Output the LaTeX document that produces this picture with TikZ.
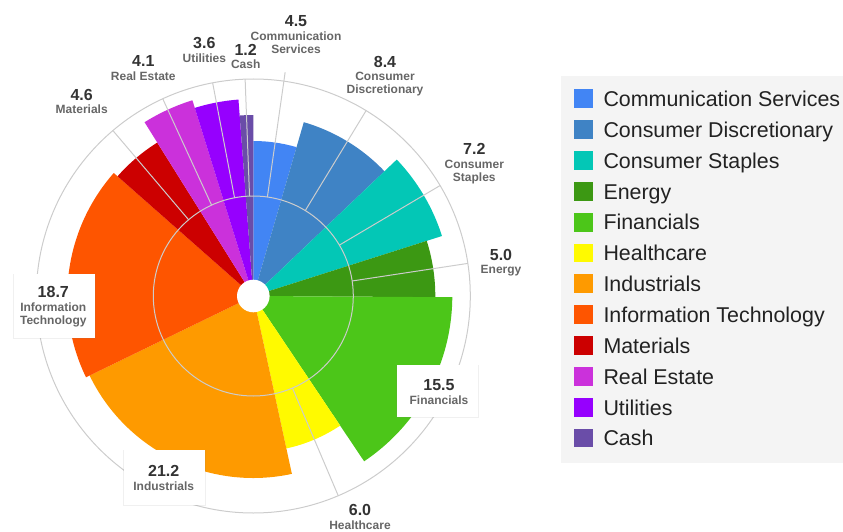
\documentclass[tikz,border=0pt]{standalone}
\usepackage{fontspec}
\setmainfont{Liberation Sans}
\usetikzlibrary{positioning,shadows,calc}
\definecolor{cComm}{HTML}{4285F4}
\definecolor{cDisc}{HTML}{3F83C5}
\definecolor{cStap}{HTML}{03C7B6}
\definecolor{cEner}{HTML}{3C9813}
\definecolor{cFin}{HTML}{4CC619}
\definecolor{cHeal}{HTML}{FFFA00}
\definecolor{cInd}{HTML}{FE9A00}
\definecolor{cIT}{HTML}{FE5500}
\definecolor{cMat}{HTML}{CC0000}
\definecolor{cRE}{HTML}{CB31DB}
\definecolor{cUtil}{HTML}{9600FE}
\definecolor{cCash}{HTML}{6A4DA8}
\definecolor{gridgray}{HTML}{CCCCCC}
\definecolor{valgray}{HTML}{333333}
\definecolor{catgray}{HTML}{666666}
\definecolor{legbg}{HTML}{F4F4F4}
\definecolor{legtxt}{HTML}{222222}
\tikzset{grid/.style={draw=gridgray, line width=1pt}}
\tikzset{val/.style={font=\fontsize{16}{18}\selectfont\bfseries, text=valgray, inner sep=0pt, text height=11.5pt, text depth=0pt}}
\tikzstyle{cat}=[font=\fontsize{12}{13}\selectfont\bfseries, text=catgray, inner sep=0pt, align=center]
\tikzstyle{lbox}=[fill=white, minimum width=81pt, inner sep=0pt, drop shadow={shadow xshift=0pt, shadow yshift=-0.6pt, shadow scale=1.025, opacity=0.12}]
\tikzstyle{swatch}=[minimum size=18.7pt, inner sep=0pt]
\tikzstyle{legtext}=[font=\fontsize{21.4}{24}\selectfont, text=legtxt, inner sep=0pt, anchor=base west]

\begin{document}
\begin{tikzpicture}[x=1pt, y=1pt, node distance=4.5pt]
\useasboundingbox (0,0) rectangle (843,531);
\coordinate (O) at (253.3,235);
\def\sa{90}
\foreach \v/\r/\c/\l in {4.5/155/cComm/226, 8.4/181/cDisc/217, 7.2/198/cStap/217, 5.0/182/cEner/217,
    15.5/199/cFin/0, 6.0/156/cHeal/217, 21.2/182/cInd/0, 18.7/186/cIT/0,
    4.6/181/cMat/217, 4.1/205/cRE/217, 3.6/197/cUtil/217, 1.2/181/cCash/217}{
  \pgfmathsetmacro\ea{\sa-3.6*\v}
  \pgfmathsetmacro\ma{(\sa+\ea)/2}
  \fill[\c] (O) -- ++(\sa:\r) arc[start angle=\sa, end angle=\ea, radius=\r] -- cycle;
  \ifnum\l>0 \draw[grid] ($(O)+(\ma:100)$) -- ($(O)+(\ma:\l)$); \fi
  \xdef\sa{\ea}
}
\draw[grid] (O) circle[radius=100];
\draw[grid] (O) circle[radius=217];
\fill[white] (O) circle[radius=16.3];

\node[val] (vComm) at (296,510.3) {4.5};
\node[cat, below=of vComm] {Communication\\Services};
\node[val] (vDisc) at (385,469.3) {8.4};
\node[cat, below=of vDisc] {Consumer\\Discretionary};
\node[val] (vStap) at (474.3,382) {7.2};
\node[cat, below=of vStap] {Consumer\\Staples};
\node[val] (vEner) at (501,276) {5.0};
\node[cat, below=of vEner] {Energy};
\node[val] (vHeal) at (360,21) {6.0};
\node[cat, below=of vHeal] {Healthcare};
\node[val] (vMat) at (81.7,436.7) {4.6};
\node[cat, below=of vMat] {Materials};
\node[val] (vRE) at (143.3,470) {4.1};
\node[cat, below=of vRE] {Real Estate};
\node[val] (vUtil) at (204.3,488.3) {3.6};
\node[cat, below=of vUtil] {Utilities};
\node[val] (vCash) at (245.7,481.7) {1.2};
\node[cat, below=of vCash] {Cash};

\node[lbox, minimum height=51.7pt] (bFin) at (437.2,140.2) {};
\node[val] (vFin) at (439,146.3) {15.5};
\node[cat, below=of vFin] {Financials};
\node[lbox, minimum height=55pt] (bInd) at (164.5,53.5) {};
\node[val] (vInd) at (163.7,60) {21.2};
\node[cat, below=of vInd] {Industrials};
\node[lbox, minimum height=63.7pt] (bIT) at (54.5,225.2) {};
\node[val] (vIT) at (53.3,239.3) {18.7};
\node[cat, below=of vIT] {Information\\Technology};

\fill[legbg] (561,68.3) rectangle (843,455);
\foreach \n/\c [count=\i from 0] in {Communication Services/cComm, Consumer Discretionary/cDisc,
    Consumer Staples/cStap, Energy/cEner, Financials/cFin, Healthcare/cHeal, Industrials/cInd,
    Information Technology/cIT, Materials/cMat, Real Estate/cRE, Utilities/cUtil, Cash/cCash}{
  \pgfmathsetmacro\y{432.2-30.84*\i}
  \node[swatch, fill=\c] (K\i) at (583.35,\y) {};
  \node[legtext] (L\i) at (603.3,\y-7.8) {\n};
}
\end{tikzpicture}
\end{document}
